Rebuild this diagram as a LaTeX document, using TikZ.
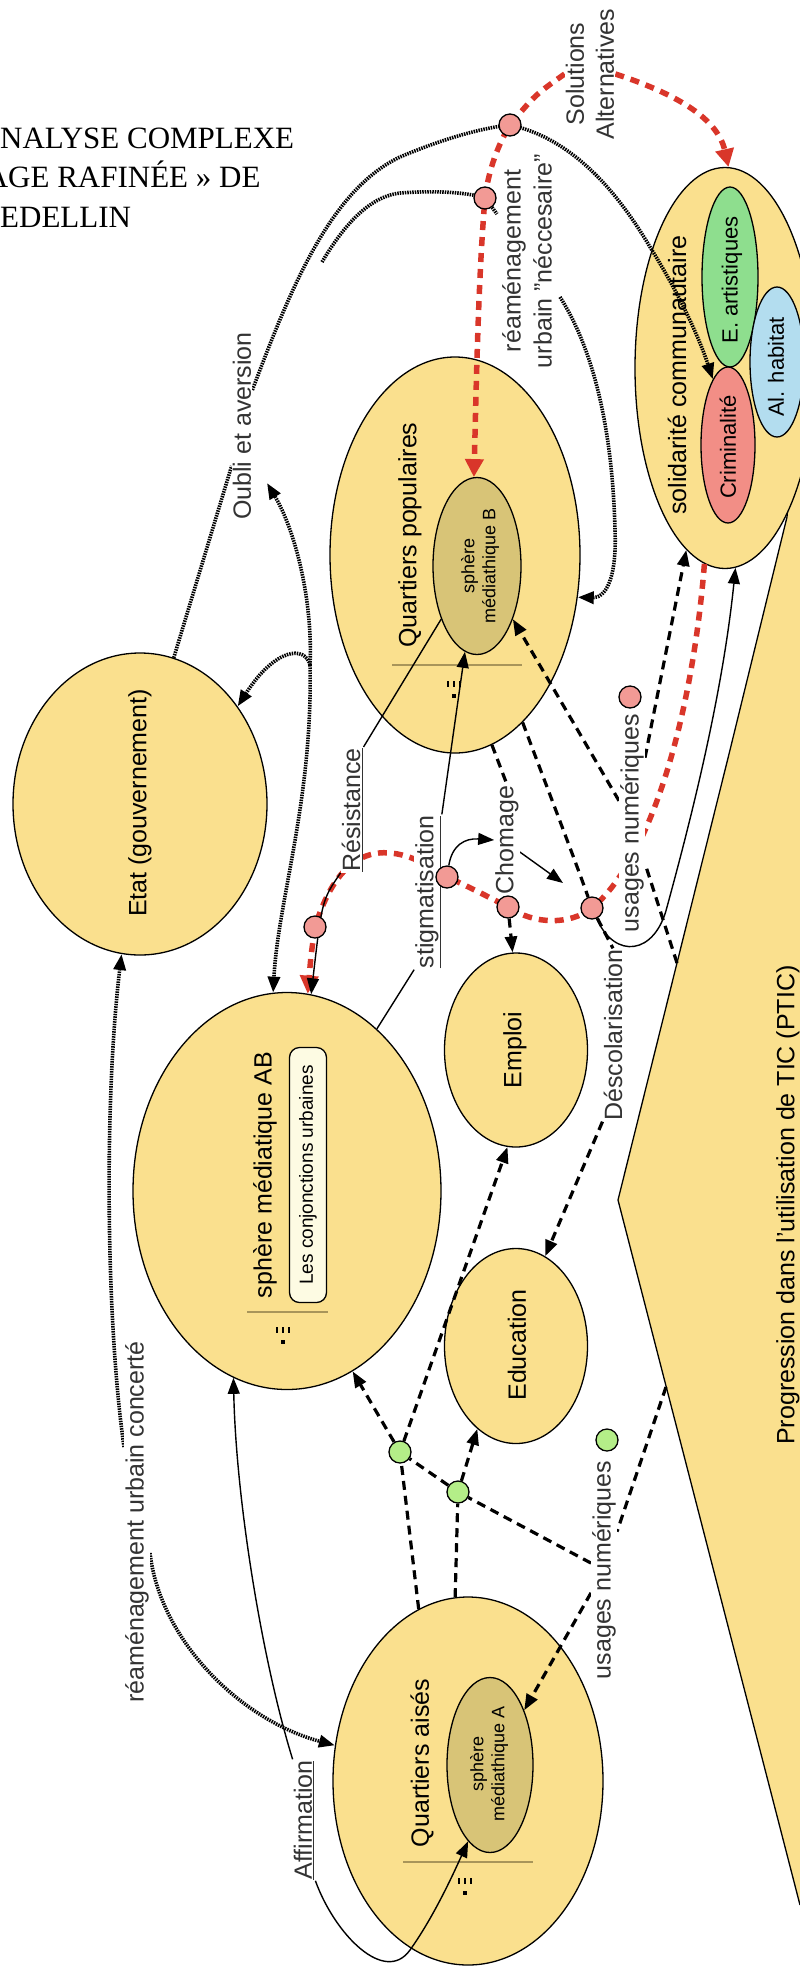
\documentclass[tikz,border=0pt]{standalone}
\usepackage{fontspec}
\setmainfont{Liberation Sans}
\newfontfamily\titlefont{Liberation Serif}
\usetikzlibrary{arrows.meta,shapes.geometric}
\pgfdeclarelayer{back}
\pgfdeclarelayer{mid}
\pgfsetlayers{back,mid,main}

\definecolor{cptyellow}{HTML}{FAE08E}
\definecolor{khaki}{HTML}{D8C477}
\definecolor{redpink}{HTML}{F28E86}
\definecolor{artgreen}{HTML}{8EDE8E}
\definecolor{habblue}{HTML}{B3DDEF}
\definecolor{dotpink}{HTML}{F29A95}
\definecolor{dotgreen}{HTML}{B4EE88}
\definecolor{linkred}{HTML}{D9362A}
\definecolor{linkgray}{HTML}{333333}
\definecolor{seprule}{HTML}{A8955A}
\definecolor{notecream}{HTML}{FDFBE3}

\newcommand{\notedots}[2]{%
	\foreach \dx in {-6,0,6} \fill (#1+\dx-1.2,#2-3) rectangle ++(2.4,6);
	\fill (#1-2,#2+10) rectangle ++(4,4);}

\begin{document}
\begin{tikzpicture}[x=1pt,y=-1pt,
		concept/.style={ellipse,draw,line width=1.3pt,fill=cptyellow,inner sep=0pt},
		sphere/.style={concept,fill=khaki},
		cpttext/.style={rotate=90,inner sep=0pt,font=\fontsize{25}{30}\selectfont},
		subtext/.style={rotate=90,inner sep=0pt,align=center,font=\fontsize{18}{21}\selectfont},
		innertext/.style={rotate=90,inner sep=0pt,font=\fontsize{22}{26}\selectfont},
		linktext/.style={rotate=90,fill=white,inner sep=1pt,align=center,text=linkgray,font=\fontsize{25}{30}\selectfont},
		pdot/.style={circle,draw,line width=1.3pt,fill=dotpink,minimum size=22pt,inner sep=0pt},
		gdot/.style={pdot,fill=dotgreen},
		dotlink/.style={line width=3.6pt,dash pattern=on 1.5pt off 1pt},
		dashlink/.style={line width=3.2pt,dash pattern=on 9pt off 6pt},
		redlink/.style={line width=5.5pt,draw=linkred,dash pattern=on 9pt off 7pt},
		solidlink/.style={line width=1.4pt},
		arr/.style={-{Triangle[length=16pt,width=12pt]}},
		redarr/.style={-{Triangle[length=18pt,width=18pt]}}]
	\useasboundingbox (0,0) rectangle (800,1966);
	\clip (0,0) rectangle (800,1966);

	\node[anchor=base west,inner sep=0pt,font=\titlefont\fontsize{31}{38}\selectfont] (title1) at (0,148) {NALYSE COMPLEXE};
	\node[anchor=base west,inner sep=0pt,font=\titlefont\fontsize{31}{38}\selectfont] (title2) at (-14.4,187) {AGE RAFINÉE » DE};
	\node[anchor=base west,inner sep=0pt,font=\titlefont\fontsize{31}{38}\selectfont] (title3) at (0,227) {EDELLIN};

	\begin{pgfonlayer}{back}
		\fill[cptyellow] (805,300) -- (787,517) -- (730,750) -- (618,1200) -- (800,1905) -- (820,1905) -- (820,300) -- cycle;
		\draw[line width=1.3pt] (805,300) -- (787,517) -- (730,750) -- (618,1200) -- (800,1905);
		\coordinate (ptic-a) at (677,963);
		\coordinate (ptic-b) at (666,1387);
		\node[cpttext] (ptic-t) at (788,1205) {Progression dans l'utilisation de TIC (PTIC)};

		\node[concept,minimum width=254pt,minimum height=302pt] (etat) at (140,804) {};
		\node[concept,minimum width=308pt,minimum height=397pt] (ab) at (287,1191) {};
		\node[concept,minimum width=250pt,minimum height=396pt] (qp) at (455,555) {};
		\node[sphere,minimum width=88pt,minimum height=177pt] (sphB) at (477,566) {};
		\node[concept,minimum width=270pt,minimum height=368pt] (qa) at (468,1781) {};
		\node[sphere,minimum width=86pt,minimum height=175pt] (sphA) at (490,1765) {};
		\node[concept,minimum width=143pt,minimum height=194pt] (emploi) at (516,1050) {};
		\node[concept,minimum width=143pt,minimum height=195pt] (educ) at (516,1346) {};
		\node[concept,minimum width=180pt,minimum height=401pt] (sc) at (725,368) {};
		\node[concept,fill=artgreen,minimum width=56pt,minimum height=180pt] (art) at (730,277) {};
		\node[concept,fill=habblue,minimum width=54pt,minimum height=150pt] (hab) at (777,362) {};
		\node[concept,fill=redpink,minimum width=54pt,minimum height=156pt] (crim) at (728,445) {};

		\draw[seprule,line width=1.2pt] (247,1312) -- (328,1312);
		\draw[seprule,line width=1.2pt] (392,665) -- (522,665);
		\draw[seprule,line width=1.2pt] (403,1862) -- (533,1862);
		\notedots{283}{1330}
		\notedots{454}{684}
		\notedots{465}{1881}

		\node[cpttext] (etat-t) at (140,803) {Etat (gouvernement)};
		\node[cpttext] (ab-t) at (265,1175) {sphère médiatique AB};
		\node[rotate=90,draw,line width=1.3pt,fill=notecream,rounded corners=10pt,minimum width=255pt,minimum height=37pt,inner sep=0pt,font=\fontsize{19}{22}\selectfont] (conj) at (308,1175) {Les conjonctions urbaines};
		\node[cpttext] (qp-t) at (410,535) {Quartiers populaires};
		\node[subtext] (sphB-t) at (480,566) {sphère\\médiathique B};
		\node[cpttext] (qa-t) at (422,1763) {Quartiers aisés};
		\node[subtext] (sphA-t) at (489,1764) {sphère\\médiathique A};
		\node[cpttext] (emploi-t) at (515,1050) {Emploi};
		\node[cpttext] (educ-t) at (517,1345) {Education};
		\node[cpttext] (sc-t) at (677,375) {solidarité communautaire};
		\node[innertext] (art-t) at (732,280) {E. artistiques};
		\node[innertext] (hab-t) at (776,367) {Al. habitat};
		\node[innertext] (crim-t) at (728,447) {Criminalité};
	\end{pgfonlayer}

	\node[linktext] (l-sol) at (590,74) {Solutions\\Alternatives};
	\node[linktext,font=\fontsize{25}{31}\selectfont] (l-nec) at (527,261) {réaménagement\\urbain "néccesaire"};
	\node[linktext] (l-oubli) at (242,426) {Oubli et aversion};
	\node[linktext] (l-conc) at (137,1522) {réaménagement urbain concerté};
	\node[linktext] (l-affirm) at (304,1820) {\underline{Affirmation}};
	\node[linktext] (l-resist) at (352,810) {\underline{Résistance}};
	\node[linktext] (l-stig) at (428,892) {\underline{stigmatisation}};
	\node[linktext] (l-chom) at (507,840) {Chomage};
	\node[linktext] (l-desc) at (613,1035) {Déscolarisation};
	\node[linktext] (l-usB) at (632,823) {usages numériques};
	\node[linktext] (l-usA) at (604,1570) {usages numériques};

	\node[pdot] (p1) at (510,125) {};
	\node[pdot] (p2) at (485,198) {};
	\node[pdot] (pres) at (315,927) {};
	\node[pdot] (pstig) at (447,877) {};
	\node[pdot] (pchom) at (508,907) {};
	\node[pdot] (pdesc) at (592,908) {};
	\node[pdot] (pusB) at (630,697) {};
	\node[gdot] (g1) at (400,1452) {};
	\node[gdot] (g2) at (458,1492) {};
	\node[gdot] (g3) at (607,1440) {};

	\coordinate (oubli-in) at (322,262);
	\coordinate (p2-stub) at (497,214);
	\coordinate (oubli-fork) at (310,665);
	\coordinate (oubli-tip) at (267,483);
	\coordinate (nec-out) at (560,297);
	\coordinate (chom-tip) at (563,883);

	\begin{pgfonlayer}{mid}
		\draw[redlink,redarr] (l-sol.north) .. controls (535,95) .. (p1.center) .. controls (495,150) and (488,175) .. (p2.center) .. controls (478,280) and (476,400) .. (sphB.92);
		\draw[redlink,redarr] (l-sol.south) .. controls (680,95) and (718,120) .. (sc.89);
		\draw[redlink,redarr] (sc.264) .. controls (692,720) and (650,860) .. (pdesc.center) .. controls (570,925) and (535,925) .. (pchom.center) .. controls (485,895) and (465,885) .. (pstig.center) .. controls (400,845) and (345,830) .. (pres.center) .. controls (311,955) .. (ab.84);

		\draw[solidlink] (sphB.236) -- (l-resist.south east);
		\draw[solidlink,arr] (l-resist.north west) .. controls (322,900) .. (ab.83);
		\draw[solidlink] (ab.61) -- (l-stig.north west);
		\draw[solidlink,arr] (l-stig.south east) -- (sphB.262);
		\draw[solidlink,arr] (l-affirm.north east) .. controls (262,1660) and (236,1500) .. (ab.254);
		\draw[solidlink,arr] (l-affirm.south west) .. controls (335,1935) and (385,1985) .. (410,1950) .. controls (435,1915) and (455,1870) .. (sphA.254);
		\draw[solidlink,arr] (pstig) .. controls (452,845) and (465,838) .. (l-chom.north);
		\draw[solidlink,arr] ([yshift=-12pt]l-chom.south) -- (chom-tip);
		\draw[solidlink,arr] (pdesc) .. controls (615,960) and (655,955) .. (667,907) .. controls (688,830) and (722,700) .. (sc.273);

		\draw[dashlink] (qp.281) -- (l-chom.east);
		\draw[dashlink,arr] (pchom) -- (emploi.92);
		\draw[dashlink] (qp.292) .. controls (548,790) and (575,860) .. (pdesc);
		\draw[dashlink] (pdesc) -- (l-desc.east);
		\draw[dashlink,arr] (l-desc.north west) -- (educ.72);
		\draw[dashlink] (ptic-a) -- (l-usB);
		\draw[dashlink,arr] (l-usB) -- (sphB.304);
		\draw[dashlink,arr] (l-usB) -- (sc.258);
		\draw[dashlink] (ptic-b) -- (l-usA);
		\draw[dashlink,arr] (l-usA) -- (sphA.58);
		\draw[dashlink] (l-usA) -- (g2);
		\draw[dashlink] (g2) -- (g1);
		\draw[dashlink,arr] (g1) -- (ab.290);
		\draw[dashlink,arr] (g1) -- (emploi.265);
		\draw[dashlink] (qa.106) -- (g1);
		\draw[dashlink,arr] (g2) -- (educ.245);
		\draw[dashlink] (qa.94) -- (g2);

		\draw[dotlink] (etat.77) -- ([yshift=-40pt]l-oubli.north);
		\draw[dotlink,arr] ([yshift=36pt]l-oubli.south) .. controls (290,290) and (330,190) .. (400,157) .. controls (440,140) and (480,128) .. (p1.center) .. controls (580,140) and (625,205) .. (650,247) .. controls (680,295) and (700,340) .. (crim.103);
		\draw[dotlink] (oubli-in) .. controls (350,215) and (375,196) .. (400,193) .. controls (440,190) and (470,193) .. (p2.center) -- (p2-stub);
		\draw[dotlink,arr] (oubli-fork) .. controls (313,600) and (295,530) .. (oubli-tip);
		\draw[dotlink,arr] (oubli-fork) .. controls (305,645) and (275,648) .. (etat.45);
		\draw[dotlink,arr] (oubli-fork) .. controls (313,800) and (278,900) .. (ab.94);
		\draw[dotlink,arr] (nec-out) .. controls (600,360) and (613,450) .. (615,530) .. controls (617,580) and (605,598) .. (qp.341);
		\draw[dotlink,arr] ([yshift=75pt]l-conc.north) .. controls (106,1320) and (104,1100) .. (etat.263);
		\draw[dotlink,arr] ([yshift=-31pt]l-conc.south) .. controls (160,1640) and (240,1720) .. (qa.165);
	\end{pgfonlayer}
\end{tikzpicture}
\end{document}
